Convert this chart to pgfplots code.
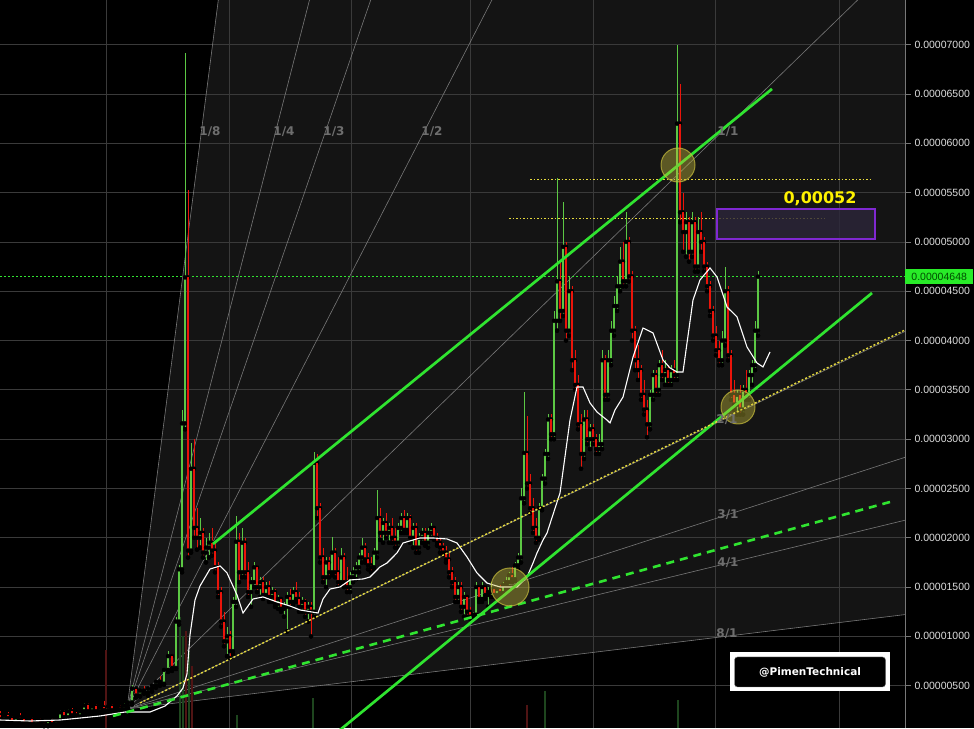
\documentclass[border=0pt]{standalone}
\usepackage{pgfplots}
\pgfplotsset{compat=1.18}
\usepackage{pgfplotstable}
\usepackage{fontspec}
\setmainfont{Liberation Sans}
\newfontfamily\dv{DejaVu Sans}

\definecolor{bgfan}{RGB}{20,20,20}
\definecolor{gridc}{RGB}{58,58,58}
\definecolor{fanc}{RGB}{120,120,120}
\definecolor{cup}{RGB}{92,200,68}
\definecolor{cdn}{RGB}{235,20,10}
\definecolor{tgreen}{RGB}{48,228,48}
\definecolor{ydot}{RGB}{230,218,60}
\definecolor{pfill}{RGB}{44,38,58}
\definecolor{pline}{RGB}{128,40,210}
\definecolor{lbl}{RGB}{110,110,110}
\definecolor{tickc}{RGB}{222,222,222}
\definecolor{vgreen}{RGB}{30,70,30}
\definecolor{vred}{RGB}{80,20,20}
\definecolor{circf}{RGB}{200,190,60}
\definecolor{pricebox}{RGB}{40,235,40}

% candles: x (px position), open, high, low, close in units of 1e-8
\pgfplotstableread{
x o h l c
0 200 240 150 160
4 160 210 140 200
8 200 230 150 170
12 170 190 120 130
16 130 190 120 180
20 180 220 150 160
24 160 170 110 120
28 120 170 110 160
32 160 180 100 110
36 110 160 100 150
40 150 170 110 120
44 120 140 90 100
48 100 160 90 150
52 150 170 100 110
56 110 160 100 150
60 150 250 140 230
64 230 250 160 180
68 180 260 170 240
72 240 270 180 200
76 200 230 160 190
80 190 250 180 240
84 240 320 220 300
88 300 320 220 240
92 240 300 220 290
96 290 310 230 240
100 240 290 210 280
104 280 340 230 250
108 250 300 230 290
112 290 310 230 250
116 250 290 230 280
120 280 300 240 260
124 260 320 250 300
128 300 350 270 330
132 330 510 310 470
136 470 490 380 400
140 400 470 390 450
144 450 500 420 430
148 430 480 400 470
152 470 520 440 500
156 500 560 480 540
160 540 600 500 520
164 520 680 510 660
168 660 850 640 800
172 800 820 650 680
176 680 1200 670 1150
179 1150 1720 1120 1680
182 1680 3300 1650 3160
185 3160 6920 3100 4640
188 4640 5530 1800 1870
191 1870 2960 1850 2700
194 2700 3000 2000 2100
197 2100 2300 1880 2000
200 2000 2200 1900 2050
203 2050 2100 1800 1850
206 1850 2000 1750 1900
209 1900 2050 1800 1950
212 1950 2100 1820 1870
215 1870 1950 1650 1700
218 1700 1750 1400 1450
221 1450 1500 1100 1150
224 1150 1250 900 950
227 950 1100 800 1000
230 1000 1050 780 850
233 850 1400 820 1350
236 1350 2220 1300 1960
239 1960 2050 1550 1650
242 1650 2100 1600 1950
245 1950 2000 1600 1650
248 1650 1750 1400 1450
251 1450 1600 1300 1550
254 1550 1750 1500 1700
257 1700 1720 1450 1500
260 1500 1600 1400 1550
263 1550 1600 1380 1420
266 1420 1550 1400 1500
269 1500 1560 1350 1400
272 1400 1500 1350 1450
275 1450 1480 1300 1330
278 1330 1420 1280 1380
281 1380 1400 1250 1280
284 1280 1350 1200 1300
287 1300 1450 1050 1400
290 1400 1480 1300 1350
293 1350 1500 1320 1450
296 1450 1550 1350 1380
299 1380 1450 1250 1300
302 1300 1400 1250 1350
305 1350 1380 1200 1250
308 1250 1350 1150 1300
311 1300 1350 1000 1250
314 1250 2870 1200 2760
317 2760 2850 2200 2300
320 2300 2350 1750 1800
323 1800 1900 1550 1600
326 1600 1800 1500 1750
329 1750 1800 1600 1650
332 1650 2010 1620 1850
335 1850 1900 1600 1650
338 1650 1800 1500 1550
341 1550 1900 1520 1800
344 1800 1850 1500 1550
347 1550 1700 1450 1500
350 1500 1650 1450 1600
353 1600 1700 1550 1650
356 1650 1750 1580 1700
359 1700 1850 1650 1800
362 1800 2000 1750 1900
365 1900 1950 1750 1780
368 1780 1850 1680 1720
371 1720 1800 1650 1700
374 1700 1900 1680 1850
377 1850 2480 1800 2200
380 2200 2300 1980 2050
383 2050 2200 1950 2150
386 2150 2250 2000 2050
389 2050 2150 1950 2100
392 2100 2200 1950 2000
395 2000 2100 1900 1950
398 1950 2150 1900 2100
401 2100 2250 2050 2200
404 2200 2280 2050 2080
407 2080 2250 2050 2200
410 2200 2230 1950 2000
413 2000 2150 1900 2100
416 2100 2150 1850 1900
419 1900 2050 1850 2000
422 2000 2100 1950 2050
425 2050 2100 1920 1950
428 1950 2100 1900 2050
431 2050 2150 2000 2100
434 2100 2120 1980 2000
437 2000 2050 1920 1950
440 1950 2000 1850 1900
443 1900 1950 1830 1850
446 1850 1920 1750 1780
449 1780 1850 1600 1650
452 1650 1700 1500 1550
455 1550 1600 1350 1400
458 1400 1550 1350 1500
461 1500 1550 1250 1300
464 1300 1450 1200 1400
467 1400 1420 1200 1250
470 1250 1300 1180 1200
473 1200 1250 1180 1220
476 1220 1550 1200 1500
479 1500 1520 1350 1380
482 1380 1550 1350 1500
485 1500 1520 1380 1420
488 1420 1500 1300 1450
491 1450 1550 1400 1480
494 1480 1500 1400 1420
497 1420 1500 1380 1480
500 1480 1520 1400 1440
503 1440 1550 1420 1520
506 1520 1600 1480 1550
509 1550 1650 1500 1620
512 1620 1700 1550 1580
515 1580 1750 1560 1720
518 1720 1850 1680 1800
521 1800 2500 1750 2400
524 2400 3480 2350 2860
527 2860 3230 2500 2550
530 2550 2650 2250 2300
533 2300 2400 2050 2100
536 2100 2200 1950 2000
539 2000 2350 1980 2300
542 2300 2650 2280 2600
545 2600 2900 2550 2850
548 2850 3250 2800 3200
551 3200 3250 3000 3050
554 3050 4300 3000 4200
557 4200 5650 4100 4600
560 4600 4800 4200 4300
563 4300 5400 4250 4950
566 4950 5000 4000 4100
569 4100 4650 4050 4500
572 4500 4550 3700 3800
575 3800 3900 3500 3550
578 3550 3650 3100 3150
581 3150 3250 2700 2850
584 2850 3300 2800 3200
587 3200 3300 2950 3000
590 3000 3150 2900 3100
593 3100 3150 2950 3000
596 3000 3050 2850 2900
599 2900 3050 2850 2950
602 2950 3900 2900 3800
605 3800 3850 3400 3450
608 3450 3900 3400 3800
611 3800 4200 3750 4100
614 4100 4450 4050 4350
617 4350 4650 4300 4550
620 4550 4950 4500 4800
623 4800 5000 4550 4600
626 4600 5300 4550 5000
629 5000 5050 4600 4650
632 4650 4700 4000 4100
635 4100 4150 3700 3800
638 3800 3950 3600 3700
641 3700 3750 3400 3450
644 3450 3600 3250 3300
647 3300 3400 3020 3150
650 3150 3500 3100 3450
653 3450 3700 3400 3650
656 3650 3700 3450 3500
659 3500 3800 3450 3750
662 3750 3900 3600 3650
665 3650 3800 3550 3700
668 3700 3750 3550 3600
671 3600 3750 3550 3700
674 3700 3800 3600 3650
677 3650 7000 3600 6200
680 6200 6600 5200 5300
683 5300 5500 4900 5100
686 5100 5300 4850 5200
689 5200 5250 4800 4900
692 4900 5300 4850 5200
695 5200 5250 4700 4750
698 4750 5250 4700 5100
701 5100 5300 4900 5000
704 5000 5050 4700 4750
707 4750 4800 4500 4550
710 4550 4600 4250 4300
713 4300 4350 4000 4050
716 4050 4150 3850 3900
719 3900 4000 3750 3800
722 3800 4100 3750 4000
725 4000 4750 3950 4500
728 4500 4550 3800 3850
731 3850 3900 3400 3450
734 3450 3600 3300 3350
737 3350 3500 3250 3450
740 3450 3550 3250 3300
743 3300 3550 3250 3500
746 3500 3700 3400 3450
749 3450 3700 3400 3650
752 3650 3800 3550 3750
755 3750 4200 3700 4100
758 4100 4700 4050 4648
}\candles

\begin{document}
\begin{tikzpicture}
\fill[black, use as bounding box] (0,0) rectangle (974pt,728pt);
\pgfplotsset{base/.style={at={(0pt,0pt)}, anchor=south west, scale only axis,
  width=905pt, height=728pt, xmin=0, xmax=905, ymin=71, ymax=7453, clip mode=individual}}
% fan background
\begin{axis}[base, hide axis]
\addplot[fill=bgfan, draw=none] coordinates {(127,264) (218.9,7500) (905,7500) (905,1221)} -- cycle;
\end{axis}
\begin{axis}[base,
  axis y line*=right, axis x line*=bottom,
  x axis line style={draw=none},
  y axis line style={draw=fanc, line width=0.8pt},
  xtick={106,229,351,470,593,715,839}, xticklabels={}, xtick style={draw=none},
  ytick={500,1000,...,7000},
  yticklabels={0.00000500,0.00001000,0.00001500,0.00002000,0.00002500,0.00003000,0.00003500,0.00004000,0.00004500,0.00005000,0.00005500,0.00006000,0.00006500,0.00007000},
  ytick style={draw=fanc, line width=0.8pt},
  tick align=outside, major tick length=6pt,
  yticklabel style={font=\fontsize{10.5}{12}\selectfont, text=tickc},
  grid=major, major grid style={draw=gridc, line width=0.8pt},
]
% gann fan
\addplot[fanc, line width=0.6pt] coordinates {(127,264) (218.9,7500)};
\addplot[fanc, line width=0.6pt] coordinates {(127,264) (310.7,7500)};
\addplot[fanc, line width=0.6pt] coordinates {(127,264) (372.3,7500)};
\addplot[fanc, line width=0.6pt] coordinates {(127,264) (494.3,7500)};
\addplot[fanc, line width=0.6pt] coordinates {(127,264) (862.4,7500)};
\addplot[fanc, line width=0.6pt] coordinates {(127,264) (905,4092)};
\addplot[fanc, line width=0.6pt] coordinates {(127,264) (905,2816)};
\addplot[fanc, line width=0.6pt] coordinates {(127,264) (905,2178)};
\addplot[fanc, line width=0.6pt] coordinates {(127,264) (905,1221)};
% volume
\addplot[ycomb, vgreen, line width=2pt] coordinates {(180,1200) (183,1000) (189,850) (237,200) (313,380) (545,450) (678,350)};
\addplot[ycomb, vred, line width=2pt] coordinates {(106,860) (186,1050) (192,700) (527,300)};
% horizontal levels
\addplot[ydot, line width=1pt, dash pattern=on 1.5pt off 2pt] coordinates {(530,5628) (872,5628)};
\addplot[ydot, line width=1pt, dash pattern=on 1.5pt off 2pt] coordinates {(509,5242) (825,5242)};
\addplot[tgreen, line width=0.9pt, dash pattern=on 2pt off 2pt] coordinates {(0,4648) (905,4648)};
% candles: wicks and bodies
\addplot[only marks, mark=none, error bars/.cd, y dir=plus, y explicit, error mark=none,
  error bar style={line width=1pt, cup}]
  table[x=x, y=l, y error plus expr={(\thisrow{c}>=\thisrow{o})*(\thisrow{h}-\thisrow{l})}] {\candles};
\addplot[only marks, mark=none, error bars/.cd, y dir=plus, y explicit, error mark=none,
  error bar style={line width=1pt, cdn}]
  table[x=x, y=l, y error plus expr={(\thisrow{c}<\thisrow{o})*(\thisrow{h}-\thisrow{l})}] {\candles};
\addplot[only marks, mark=none, error bars/.cd, y dir=plus, y explicit, error mark=none,
  error bar style={line width=2.8pt, cup}]
  table[x=x, y=o, y error plus expr={(\thisrow{c}>=\thisrow{o})*(\thisrow{c}-\thisrow{o})}] {\candles};
\addplot[only marks, mark=none, error bars/.cd, y dir=plus, y explicit, error mark=none,
  error bar style={line width=2.8pt, cdn}]
  table[x=x, y=c, y error plus expr={(\thisrow{c}<\thisrow{o})*(\thisrow{o}-\thisrow{c})}] {\candles};
% moving average
\addplot[white, line width=1.1pt] coordinates {(0,152) (30,142) (60,152) (80,172) (100,193) (125,233) (150,233) (165,294) (177,396) (183,477) (187,619) (190,1014) (195,1369) (200,1511) (210,1683) (220,1714) (227,1643) (237,1420) (243,1237) (253,1379) (263,1400) (277,1349) (290,1308) (300,1268) (318,1237) (323,1379) (330,1480) (340,1501) (350,1572) (363,1582) (370,1602) (380,1704) (387,1744) (397,1846) (403,1947) (420,1998) (433,1998) (447,1988) (457,1947) (467,1805) (477,1643) (487,1541) (500,1501) (517,1501) (527,1602) (533,1744) (537,1846) (543,1977) (547,2048) (560,2454) (570,3194) (577,3529) (583,3529) (590,3367) (597,3275) (607,3194) (610,3164) (615,3296) (623,3427) (633,3833) (643,4127) (653,4077) (663,3803) (670,3722) (677,3681) (683,3681) (687,3975) (693,4411) (700,4614) (710,4736) (717,4644) (727,4340) (737,4239) (747,3934) (757,3772) (763,3732) (770,3884)};
% trend lines
\addplot[tgreen, line width=2.7pt] coordinates {(213,1937) (772,6551)};
\addplot[tgreen, line width=2.7pt] coordinates {(340,51) (872,4482)};
\addplot[tgreen, line width=2.6pt, dash pattern=on 8pt off 6pt] coordinates {(113,193) (890,2363)};
\addplot[ydot, line width=1.4pt, dash pattern=on 2pt off 2pt] coordinates {(140,325) (905,4107)};
% circles
\addplot[only marks, mark=*, mark size=17pt, mark options={fill=circf, fill opacity=0.4, draw=circf, draw opacity=0.7, line width=1pt}] coordinates {(678,5780) (738,3326)};
\addplot[only marks, mark=*, mark size=19pt, mark options={fill=circf, fill opacity=0.4, draw=circf, draw opacity=0.7, line width=1pt}] coordinates {(510,1501)};
% target box
\addplot[fill=pfill, fill opacity=0.8, draw=pline, line width=1.2pt] coordinates {(717,5334) (875,5334) (875,5030) (717,5030)} -- cycle;
% labels
\begin{scope}[every node/.style={text=lbl, font=\dv\bfseries\fontsize{12}{14}\selectfont}]
\node at (axis cs:210,6115) {1/8};
\node at (axis cs:284,6115) {1/4};
\node at (axis cs:334,6115) {1/3};
\node at (axis cs:432,6115) {1/2};
\node at (axis cs:728,6115) {1/1};
\node at (axis cs:727,3194) {2/1};
\node at (axis cs:728,2231) {3/1};
\node at (axis cs:728,1744) {4/1};
\node at (axis cs:727,1024) {8/1};
\end{scope}
\node[text=yellow, font=\dv\bfseries\fontsize{16}{18}\selectfont] at (axis cs:820,5435) {0,00052};
\node[fill=white, minimum width=160pt, minimum height=39pt, inner sep=0pt] at (axis cs:810,639) {};
\node[fill=black, draw=gray, rounded corners=3pt, minimum width=151pt, minimum height=30pt, inner sep=0pt,
  text=white, font=\dv\bfseries\fontsize{10.5}{12}\selectfont] at (axis cs:810,639) {@PimenTechnical};
\node[fill=pricebox, text=black!70!green, anchor=west, inner sep=0pt, minimum width=68pt, minimum height=15pt,
  font=\fontsize{10.5}{12}\selectfont] at (axis cs:905,4648) {0.00004648};
\end{axis}
\end{tikzpicture}
\end{document}
